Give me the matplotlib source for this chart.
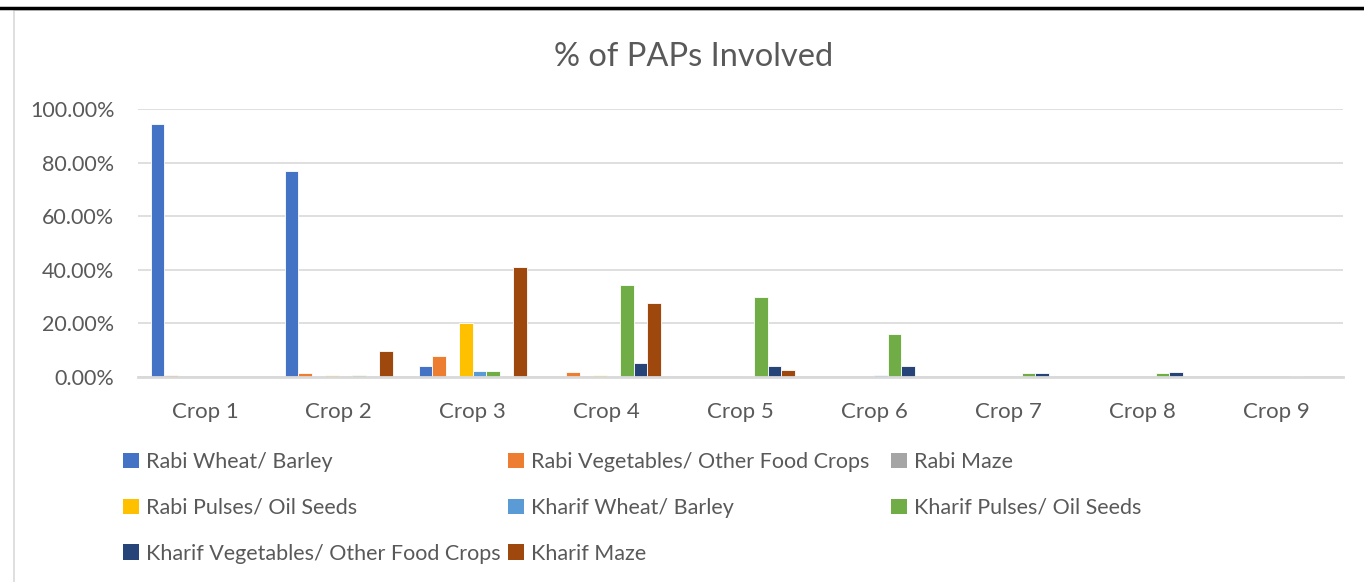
import numpy as np
import matplotlib.pyplot as plt
from matplotlib.lines import Line2D
from matplotlib.patches import Rectangle, Patch

plt.rcParams['font.family'] = ['Lato', 'DejaVu Sans']

crops = ['Crop 1', 'Crop 2', 'Crop 3', 'Crop 4', 'Crop 5', 'Crop 6', 'Crop 7', 'Crop 8', 'Crop 9']
series = ['Rabi Wheat/ Barley', 'Rabi Vegetables/ Other Food Crops', 'Rabi Maze',
          'Rabi Pulses/ Oil Seeds', 'Kharif Wheat/ Barley', 'Kharif Pulses/ Oil Seeds',
          'Kharif Vegetables/ Other Food Crops', 'Kharif Maze']
colors = ['#4472C4', '#ED7D31', '#A5A5A5', '#FFC000', '#5B9BD5', '#70AD47', '#264478', '#9E480E']

# % values per series, one entry per crop
rabi_wheat = [94.4, 77.0, 4.1, 0, 0, 0, 0, 0, 0]
rabi_veg = [0.7, 1.4, 7.8, 2.0, 0, 0, 0, 0, 0]
rabi_maze = [0, 0.4, 0.4, 0, 0, 0, 0, 0, 0]
rabi_pulses = [0, 0.6, 20.0, 0.6, 0, 0, 0, 0, 0]
kharif_wheat = [0, 0, 2.2, 0.4, 0.4, 0.7, 0, 0, 0]
kharif_pulses = [0, 0.6, 2.2, 34.4, 29.9, 16.0, 1.4, 1.6, 0.4]
kharif_veg = [0, 0, 0.1, 5.3, 4.1, 4.2, 1.4, 2.0, 0]
kharif_maze = [0, 9.7, 41.0, 27.6, 2.7, 0, 0, 0, 0]

values = [rabi_wheat, rabi_veg, rabi_maze, rabi_pulses,
          kharif_wheat, kharif_pulses, kharif_veg, kharif_maze]

W, H = 1364, 582
fig = plt.figure(figsize=(W / 100, H / 100), dpi=100)

# page heading rule and chart frame
fig.add_artist(Line2D([0, 1], [1 - 8 / H, 1 - 8 / H], color='black', lw=2.5))
fig.add_artist(Rectangle((14 / W, -0.01), 1.0, 1 - 10 / H + 0.01, fill=False,
                         edgecolor='#D9D9D9', lw=1.2, transform=fig.transFigure))

ax = fig.add_axes([138 / W, 1 - 377 / H, (1343 - 138) / W, (377 - 109) / H])
x = np.arange(len(crops))
bw = 0.101
for i, (name, vals) in enumerate(zip(series, values)):
    ax.bar(x + (i - 3.5) * bw, np.array(vals) / 100, width=bw, color=colors[i],
           edgecolor='white', linewidth=0.6, label=name, zorder=3)

ax.set_xlim(-0.5, len(crops) - 0.5)
ax.set_ylim(0, 1.0)
ax.set_yticks(np.arange(0, 1.01, 0.2))
ax.set_yticklabels(['%.2f%%' % (v * 100) for v in np.arange(0, 1.01, 0.2)])
ax.set_xticks(x)
ax.set_xticklabels(crops)
ax.tick_params(axis='y', length=0, labelsize=15.5, colors='#595959', pad=17)
ax.tick_params(axis='x', length=0, labelsize=16, colors='#595959', pad=18)
ax.grid(axis='y', color='#D9D9D9', lw=1.2, zorder=0)
for s in ['top', 'right', 'left']:
    ax.spines[s].set_visible(False)
ax.spines['bottom'].set_color('#D9D9D9')
ax.spines['bottom'].set_linewidth(2)
ax.spines['bottom'].set_zorder(4)

fig.text(694 / W, 1 - 57 / H, '% of PAPs Involved', ha='center', va='center',
         fontsize=23.5, color='#595959')

# legend in three fixed-width columns, filled row by row like the original
cols = [[0, 3, 6], [1, 4, 7], [2, 5]]
col_x = [123, 508, 891]
for cx, idx in zip(col_x, cols):
    handles = [Patch(facecolor=colors[k], edgecolor='none') for k in idx]
    fig.legend(handles, [series[k] for k in idx], loc='upper left',
               bbox_to_anchor=(cx / W, 1 - 452 / H), frameon=False,
               fontsize=15.5, labelcolor='#595959', handlelength=0.72,
               handleheight=0.72, handletextpad=0.35, labelspacing=1.2,
               borderpad=0, borderaxespad=0)

fig.savefig('out.png', dpi=100)
